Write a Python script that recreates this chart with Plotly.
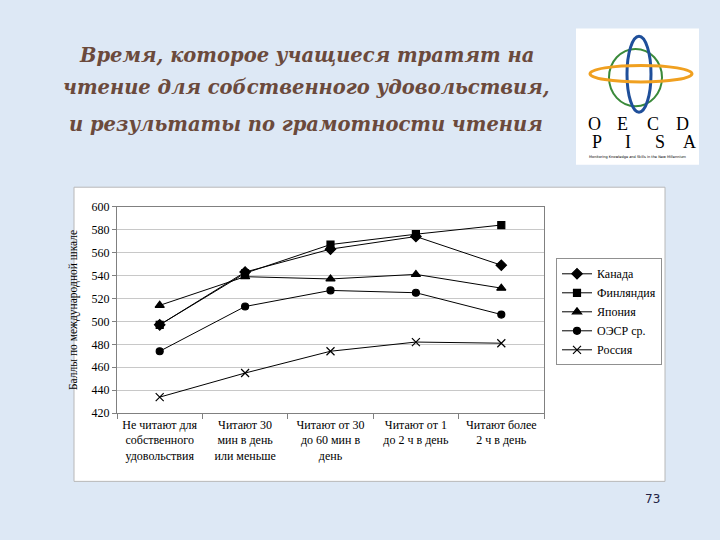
import plotly.graph_objects as go

categories = [
    "Не читают для<br>собственного<br>удовольствия",
    "Читают 30<br>мин в день<br>или меньше",
    "Читают от 30<br>до 60 мин в<br>день",
    "Читают от 1<br>до 2 ч в день",
    "Читают более<br>2 ч в день",
]
canada = [497, 543, 563, 574, 549]
finland = [497, 542, 567, 576, 584]
japan = [514, 539, 537, 541, 529]
oecd = [474, 513, 527, 525, 506]
russia = [434, 455, 474, 482, 481]

series = [
    ("Канада", canada, "diamond", 8),
    ("Финляндия", finland, "square", 7),
    ("Япония", japan, "triangle-up", 8),
    ("ОЭСР ср.", oecd, "circle", 7),
    ("Россия", russia, "x-thin-open", 8),
]

x = list(range(len(categories)))
fig = go.Figure()
for name, vals, sym, sz in series:
    fig.add_trace(go.Scatter(
        x=x, y=vals, name=name, mode="lines+markers",
        line=dict(color="black", width=1),
        marker=dict(symbol=sym, size=sz, color="black",
                    line=dict(color="black", width=1.2)),
    ))

W, H = 720, 540
def px(v): return v / W
def py(v): return 1 - v / H

serif = "Liberation Serif, Times New Roman, serif"
fig.update_layout(
    width=W, height=H,
    margin=dict(l=0, r=0, t=0, b=0),
    paper_bgcolor="#dde8f5",
    plot_bgcolor="white",
    showlegend=True,
    legend=dict(
        x=px(556), y=py(258), xanchor="left", yanchor="top",
        bgcolor="white", bordercolor="#909090", borderwidth=1,
        font=dict(family=serif, size=12, color="black"),
        itemwidth=30, tracegroupgap=0,
    ),
    xaxis=dict(
        domain=[px(117), px(544)], range=[-0.5, 4.5],
        tickvals=x, ticktext=categories, ticks="",
        showgrid=False, zeroline=False,
        showline=True, linecolor="#808080", mirror=True,
        tickfont=dict(family=serif, size=12, color="black"),
        minor=dict(tick0=-0.5, dtick=1, ticks="outside", ticklen=5,
                   tickcolor="#808080", showgrid=False),
    ),
    yaxis=dict(
        domain=[py(417), py(205)], range=[420, 600], dtick=20,
        ticks="outside", ticklen=4, tickcolor="#808080",
        showgrid=True, gridcolor="#c8c8c8", gridwidth=1,
        zeroline=False, showline=True, linecolor="#808080", mirror=True,
        tickfont=dict(family=serif, size=12, color="black"),
        title=dict(text="Баллы по международной шкале",
                   font=dict(family=serif, size=11.5, color="black"),
                   standoff=11),
    ),
)

shapes = []
# white chart panel
shapes.append(dict(type="rect", xref="paper", yref="paper", layer="below",
                   x0=px(74), x1=px(665), y0=py(487), y1=py(185),
                   fillcolor="white", line=dict(color="#b8b8b8", width=1)))
# logo panel
shapes.append(dict(type="rect", xref="paper", yref="paper", layer="below",
                   x0=px(576), x1=px(699), y0=py(162), y1=py(22),
                   fillcolor="white", line=dict(width=0)))
# logo globe
cx, cy = 638, 70
shapes.append(dict(type="circle", xref="paper", yref="paper",
                   x0=px(cx - 29), x1=px(cx + 24), y0=py(cy + 32), y1=py(cy - 27),
                   line=dict(color="#3a8a3a", width=2)))
shapes.append(dict(type="circle", xref="paper", yref="paper",
                   x0=px(cx - 11), x1=px(cx + 13), y0=py(cy + 38), y1=py(cy - 40),
                   line=dict(color="#1f4f9a", width=3)))
shapes.append(dict(type="circle", xref="paper", yref="paper",
                   x0=px(cx - 48), x1=px(cx + 54), y0=py(cy + 7), y1=py(cy - 10),
                   line=dict(color="#f0a020", width=3)))
fig.update_layout(shapes=shapes)

annotations = []
title_lines = [
    ("Время, которое учащиеся тратят на", 50),
    ("чтение для собственного удовольствия,", 83),
    ("и результаты по грамотности чтения", 121),
]
for txt, yy in title_lines:
    annotations.append(dict(
        text=txt, xref="paper", yref="paper",
        x=px(306), y=py(yy), xanchor="center", yanchor="middle",
        showarrow=False,
        font=dict(family="DejaVu Serif", size=19.5, color="#6b4a3c",
                  weight="bold", style="italic"),
    ))
for ch, xx in zip("OECD", [594, 622, 653, 682]):
    annotations.append(dict(text=ch, xref="paper", yref="paper",
                            x=px(xx), y=py(120), xanchor="center", yanchor="middle",
                            showarrow=False,
                            font=dict(family="Liberation Serif", size=18, color="black")))
for ch, xx in zip("PISA", [597, 628, 660, 689]):
    annotations.append(dict(text=ch, xref="paper", yref="paper",
                            x=px(xx), y=py(139), xanchor="center", yanchor="middle",
                            showarrow=False,
                            font=dict(family="Liberation Serif", size=18, color="black")))
annotations.append(dict(text="Monitoring Knowledge and Skills in the New Millennium",
                        xref="paper", yref="paper", x=px(638), y=py(154),
                        xanchor="center", yanchor="middle", showarrow=False,
                        font=dict(family="DejaVu Sans", size=3.5, color="black")))
annotations.append(dict(text="73", xref="paper", yref="paper",
                        x=px(652), y=py(505), xanchor="center", yanchor="middle",
                        showarrow=False,
                        font=dict(family="DejaVu Sans", size=12, color="#222244")))
fig.update_layout(annotations=annotations)

fig.write_html("out.html", config={"displayModeBar": False},
               post_script="document.body.style.margin='0';document.body.style.padding='0';")
